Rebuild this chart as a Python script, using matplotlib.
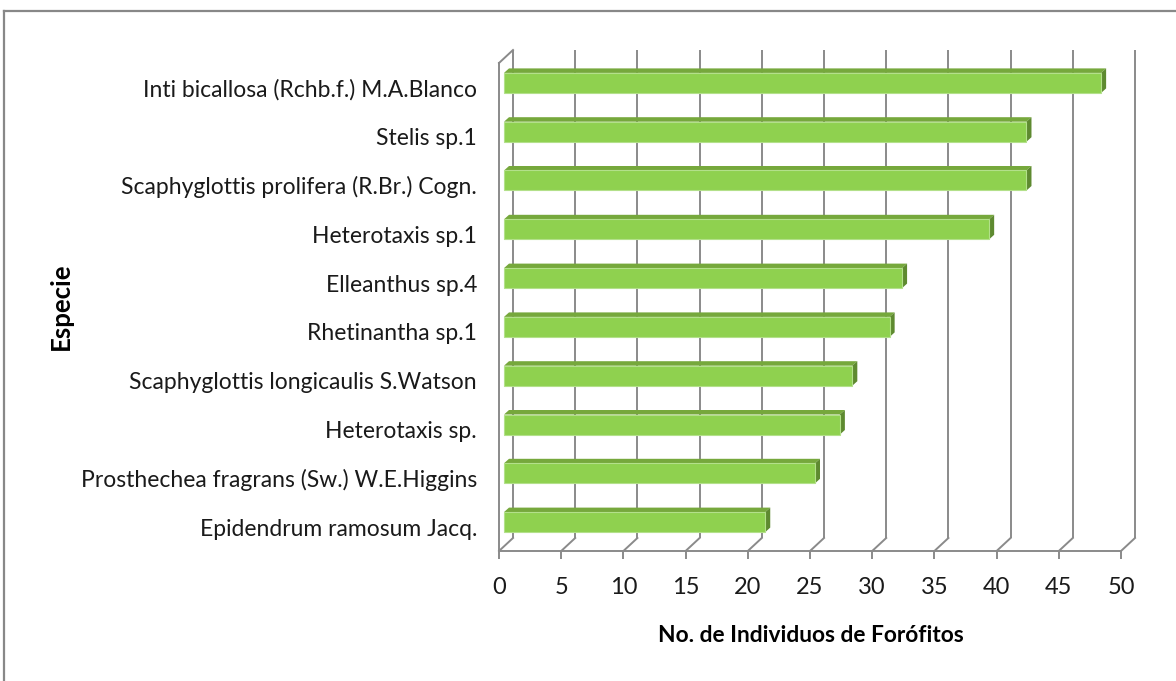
import matplotlib
matplotlib.use("Agg")
import matplotlib.pyplot as plt
from matplotlib.patches import Polygon, Rectangle
from matplotlib.lines import Line2D

# ---------------- data ----------------
species = [
    "Inti bicallosa (Rchb.f.) M.A.Blanco",
    "Stelis sp.1",
    "Scaphyglottis prolifera (R.Br.) Cogn.",
    "Heterotaxis sp.1",
    "Elleanthus sp.4",
    "Rhetinantha sp.1",
    "Scaphyglottis longicaulis S.Watson",
    "Heterotaxis sp.",
    "Prosthechea fragrans (Sw.) W.E.Higgins",
    "Epidendrum ramosum Jacq.",
]
values = [48, 42, 42, 39, 32, 31, 28, 27, 25, 21]
xticks = [0, 5, 10, 15, 20, 25, 30, 35, 40, 45, 50]
xlabel = "No. de Individuos de Forófitos"
ylabel = "Especie"

plt.rcParams['font.family'] = ['Lato', 'DejaVu Sans']

# ---------------- layout ----------------
W, H = 1176, 681
fig = plt.figure(figsize=(W / 100, H / 100), dpi=100)
fx0, fx1 = 499, 1121   # front plane, x pixels for 0 and 50
fy0, fy1 = 63, 551     # front plane, top and bottom pixels
ax = fig.add_axes([fx0 / W, 1 - fy1 / H, (fx1 - fx0) / W, (fy1 - fy0) / H])
ax.set_xlim(0, 50)
ax.set_ylim(-0.5, 9.5)
ax.axis('off')

ppx = (fx1 - fx0) / 50.0
ppy = (fy1 - fy0) / 10.0
DX, DY = 14 / ppx, 13 / ppy      # wall depth
grid_c = '#8a8a8a'
lw = 1.4

# back gridlines and floor diagonals
for t in xticks:
    ax.plot([t + DX, t + DX], [-0.5 + DY, 9.5 + DY], color=grid_c, lw=lw,
            clip_on=False, zorder=1, solid_capstyle='butt')
    ax.plot([t, t + DX], [-0.5, -0.5 + DY], color=grid_c, lw=lw,
            clip_on=False, zorder=1)
    ax.plot([t, t], [-0.5, -0.5 - 8 / ppy], color=grid_c, lw=lw,
            clip_on=False, zorder=1, solid_capstyle='butt')
    ax.text(t, -0.5 - 37 / ppy, str(t), ha='center', va='center',
            fontsize=17, color='#1a1a1a')
# front floor line and left wall
ax.plot([0, 50], [-0.5, -0.5], color=grid_c, lw=lw, clip_on=False, zorder=1)
ax.plot([0, 0], [-0.5, 9.5], color=grid_c, lw=lw, clip_on=False, zorder=1)
ax.plot([0, DX], [9.5, 9.5 + DY], color=grid_c, lw=lw, clip_on=False, zorder=1)

# bars (3D look)
b0x, b0y = 5 / ppx, 4.5 / ppy
bdx, bdy = 5 / ppx, 4.5 / ppy
h = 20 / ppy
front_c, top_c, side_c = '#8fd14f', '#76a83c', '#5e8a30'
n = len(species)
for k, (name, v) in enumerate(zip(species, values)):
    y = n - 1 - k
    yb = y - h / 2 + b0y
    yt = y + h / 2 + b0y
    ax.add_patch(Polygon([(b0x, yt), (b0x + v, yt), (b0x + v + bdx, yt + bdy),
                          (b0x + bdx, yt + bdy)], closed=True, fc=top_c,
                         ec='none', zorder=3, clip_on=False))
    ax.add_patch(Polygon([(b0x + v, yb), (b0x + v, yt), (b0x + v + bdx, yt + bdy),
                          (b0x + v + bdx, yb + bdy)], closed=True, fc=side_c,
                         ec='none', zorder=3, clip_on=False))
    ax.add_patch(Rectangle((b0x, yb), v, h, fc=front_c, ec='#b3e08a',
                           lw=0.8, zorder=4, clip_on=False))
    ax.text(-22 / ppx, y - 0.05, name, ha='right', va='center', fontsize=16.5,
            color='#1a1a1a')

fig.text(811 / W, 1 - 635 / H, xlabel, ha='center', va='center',
         fontsize=16.4, fontweight='bold', color='#000000')
fig.text(61 / W, 1 - 306 / H, ylabel, ha='center', va='center',
         rotation=90, fontsize=18.5, fontweight='bold', color='#000000')

# outer chart border
fig.add_artist(Line2D([4 / W, 4 / W], [0, 1 - 11 / H], color='#888888', lw=1.6))
fig.add_artist(Line2D([4 / W, 1], [1 - 11 / H, 1 - 11 / H], color='#888888', lw=1.6))

fig.savefig('out.png', dpi=100)
